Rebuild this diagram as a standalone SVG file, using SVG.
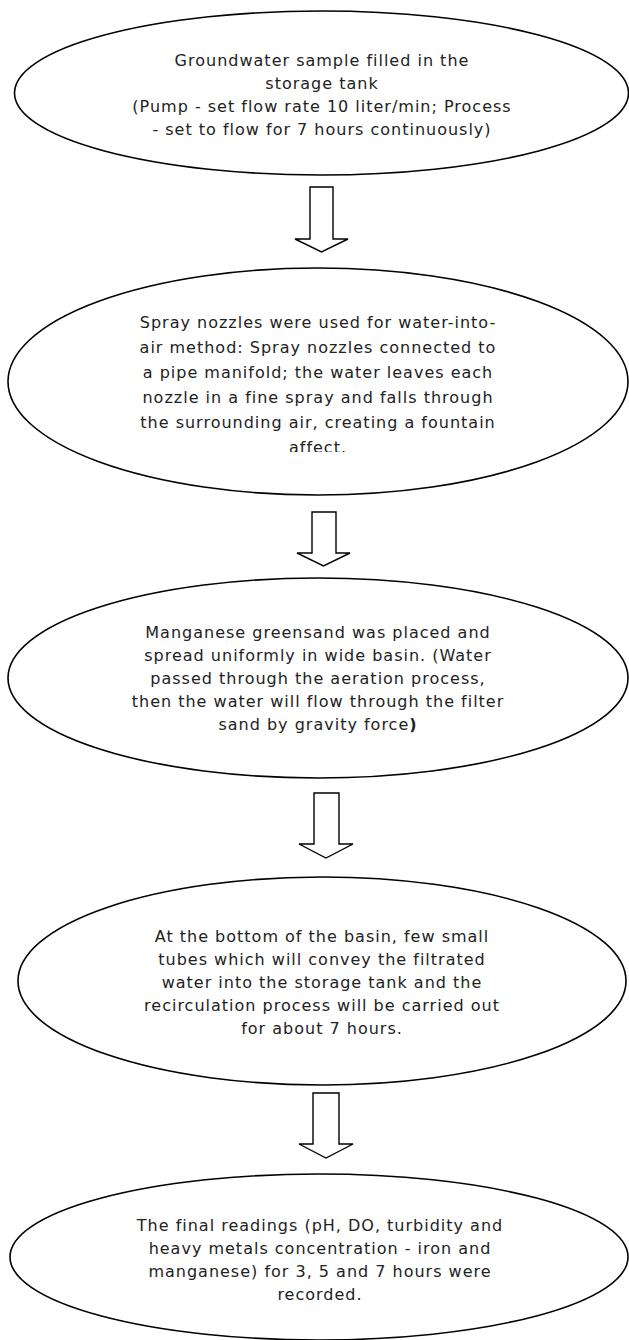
<svg xmlns="http://www.w3.org/2000/svg" width="629" height="1340" viewBox="0 0 629 1340">
<defs>
<style>
.node ellipse{fill:#fff;stroke:#000;stroke-width:1.6}
.node text{font-family:"DejaVu Sans","Liberation Sans",sans-serif;font-size:16px;letter-spacing:1px;fill:#222;text-anchor:middle}
.arrow{fill:#fff;stroke:#000;stroke-width:1.4;stroke-linejoin:miter}
</style>
<clipPath id="clip2"><rect x="0" y="260" width="629" height="192"/></clipPath>
</defs>
<rect width="629" height="1340" fill="#fff"/>
<g id="n1" class="node">
<ellipse cx="321.5" cy="93" rx="307" ry="82"/>
<text x="322" y="66">Groundwater sample filled in the</text>
<text x="322" y="89">storage tank</text>
<text x="322" y="112">(Pump - set flow rate 10 liter/min; Process</text>
<text x="322" y="135">- set to flow for 7 hours continuously)</text>
</g>
<g id="n2" class="node">
<ellipse cx="318" cy="381.5" rx="310" ry="113.5"/>
<g clip-path="url(#clip2)">
<text x="318" y="328">Spray nozzles were used for water-into-</text>
<text x="318" y="353">air method: Spray nozzles connected to</text>
<text x="318" y="378">a pipe manifold; the water leaves each</text>
<text x="318" y="403">nozzle in a fine spray and falls through</text>
<text x="318" y="428">the surrounding air, creating a fountain</text>
<text x="318" y="453">affect.</text>
</g>
</g>
<g id="n3" class="node">
<ellipse cx="318" cy="678" rx="310" ry="100"/>
<text x="318" y="638">Manganese greensand was placed and</text>
<text x="318" y="661">spread uniformly in wide basin. (Water</text>
<text x="318" y="684">passed through the aeration process,</text>
<text x="318" y="707">then the water will flow through the filter</text>
<text x="318" y="730">sand by gravity force<tspan font-weight="bold">)</tspan></text>
</g>
<g id="n4" class="node">
<ellipse cx="322" cy="981" rx="304" ry="104"/>
<text x="322" y="942">At the bottom of the basin, few small</text>
<text x="322" y="965">tubes which will convey the filtrated</text>
<text x="322" y="988">water into the storage tank and the</text>
<text x="322" y="1011">recirculation process will be carried out</text>
<text x="322" y="1034">for about 7 hours.</text>
</g>
<g id="n5" class="node">
<ellipse cx="319" cy="1257" rx="309" ry="83"/>
<text x="320" y="1231">The final readings (pH, DO, turbidity and</text>
<text x="320" y="1254">heavy metals concentration - iron and</text>
<text x="320" y="1277">manganese) for 3, 5 and 7 hours were</text>
<text x="320" y="1300">recorded.</text>
</g>
<g id="connectors">
<path class="arrow" d="M310 187 H333 V239 H348 L321.5 252 L295 239 H310 Z"/>
<path class="arrow" d="M312 512 H336 V553 H350 L323.5 566 L297 553 H312 Z"/>
<path class="arrow" d="M314 793 H339 V844 H353 L326 858 L299 844 H314 Z"/>
<path class="arrow" d="M313 1093 H339 V1144 H353 L326 1158 L299 1144 H313 Z"/>
</g>
</svg>
